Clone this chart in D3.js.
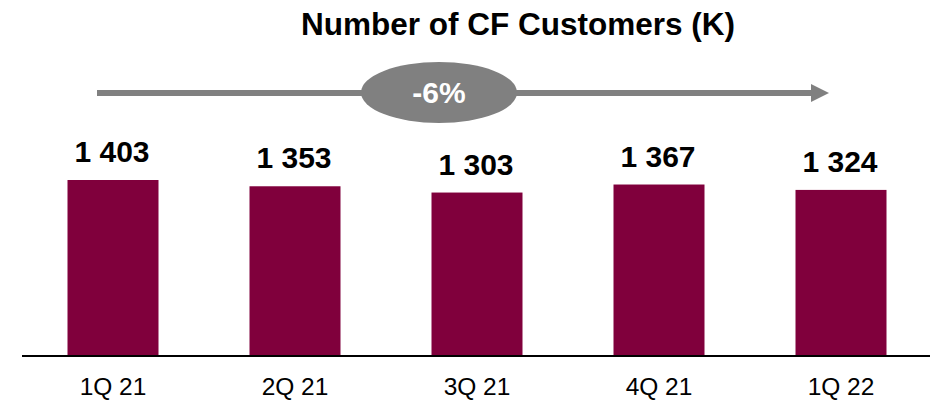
<!DOCTYPE html>
<html>
<head>
<meta charset="utf-8">
<script src="https://cdn.jsdelivr.net/npm/d3@7"></script>
<style>
  html, body { margin: 0; padding: 0; background: #ffffff; }
  svg { display: block; font-family: "Liberation Sans", Arial, sans-serif; }
</style>
</head>
<body>
<svg id="chart" width="930" height="404"></svg>
<script>
const categories = ["1Q 21", "2Q 21", "3Q 21", "4Q 21", "1Q 22"];
const customers = [1403, 1353, 1303, 1367, 1324];
const chartTitle = "Number of CF Customers (K)";
const changeLabel = "-6%";

const W = 930, H = 404;
const svg = d3.select("#chart");

const x = d3.scaleBand().domain(categories).range([22, 932]).paddingInner(0.5).paddingOuter(0.25);
const y = d3.scaleLinear().domain([0, 1403]).range([356, 180]);

const fmt = d3.formatLocale({ decimal: ".", thousands: " ", grouping: [3], currency: ["", ""] }).format(",d");

// Title
svg.append("text")
  .attr("x", 518).attr("y", 35)
  .attr("text-anchor", "middle")
  .attr("font-size", 31.5).attr("font-weight", "bold").attr("fill", "#000")
  .text(chartTitle);

// Trend arrow
const arrowY = 93;
svg.append("line")
  .attr("x1", 97).attr("x2", 812).attr("y1", arrowY).attr("y2", arrowY)
  .attr("stroke", "#808080").attr("stroke-width", 6);
svg.append("path")
  .attr("d", `M811,${arrowY - 9} L829,${arrowY} L811,${arrowY + 9} Z`)
  .attr("fill", "#808080");
svg.append("ellipse")
  .attr("cx", 439).attr("cy", 92.5).attr("rx", 78).attr("ry", 30.5)
  .attr("fill", "#808080");
svg.append("text")
  .attr("x", 439).attr("y", 103)
  .attr("text-anchor", "middle")
  .attr("font-size", 30).attr("font-weight", "bold").attr("fill", "#ffffff")
  .text(changeLabel);

// Bars
svg.selectAll("rect.bar")
  .data(customers)
  .join("rect")
  .attr("class", "bar")
  .attr("x", (d, i) => x(categories[i]))
  .attr("width", x.bandwidth())
  .attr("y", d => y(d))
  .attr("height", d => y(0) - y(d))
  .attr("fill", "#80003c");

// Value labels
svg.selectAll("text.val")
  .data(customers)
  .join("text")
  .attr("class", "val")
  .attr("x", (d, i) => x(categories[i]) + x.bandwidth() / 2 - 1)
  .attr("y", d => y(d) - 18)
  .attr("text-anchor", "middle")
  .attr("font-size", 30).attr("font-weight", "bold").attr("fill", "#000")
  .text(d => fmt(d));

// Axis
const axis = svg.append("g").attr("transform", `translate(0,${y(0)})`)
  .call(d3.axisBottom(x).tickSize(0).tickPadding(0));
axis.select(".domain").attr("d", `M22,0H930`).attr("stroke", "#000").attr("stroke-width", 2);
axis.selectAll(".tick text")
  .attr("y", 39).attr("dy", null)
  .attr("font-size", 24.5).attr("fill", "#000")
  .attr("font-family", "\"Liberation Sans\", Arial, sans-serif");
</script>
</body>
</html>
